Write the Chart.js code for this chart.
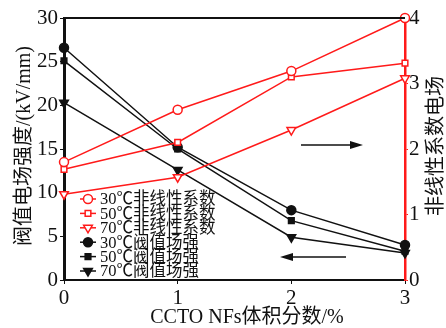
<!DOCTYPE html>
<html>
<head>
<meta charset="utf-8">
<script src="https://cdn.jsdelivr.net/npm/chart.js@4/dist/chart.umd.min.js"></script>
<style>
  html, body { margin: 0; padding: 0; background: #fff; }
  #wrap { width: 446px; height: 328px; }
</style>
</head>
<body>
<div id="wrap"><canvas id="c" width="446" height="328"></canvas></div>
<script>
// CCTO NFs volume fraction (%)
const categories = ['0', '1', '2', '3'];

// Nonlinear coefficient (right axis)
const nonlin30 = [1.80, 2.60, 3.19, 4.00];
const nonlin50 = [1.69, 2.10, 3.10, 3.31];
const nonlin70 = [1.31, 1.57, 2.29, 3.08];

// Threshold field strength, kV/mm (left axis)
const field30 = [26.6, 15.2, 8.0, 4.0];
const field50 = [25.1, 15.0, 6.8, 3.3];
const field70 = [20.3, 12.6, 4.9, 3.1];

const leftTicks = [0, 5, 10, 15, 20, 25, 30];
const rightTicks = [0, 1, 2, 3, 4];

const seriesLabels = [
  '30℃非线性系数', '50℃非线性系数', '70℃非线性系数',
  '30℃阀值场强', '50℃阀值场强', '70℃阀值场强'
];

const xTitle = 'CCTO NFs体积分数/%';
const yTitle = '阀值电场强度/(kV/mm)';
const y1Title = '非线性系数电场';

const RED = '#ff1a1a';
const BLACK = '#111';
const FONT = '"Liberation Serif", "Times New Roman", "Noto Sans CJK SC", serif';

function ds(label, data, color, style, filled, axis, radius, rotation) {
  return {
    label, data, yAxisID: axis,
    borderColor: color, borderWidth: 1.5,
    pointStyle: style, pointRadius: radius, pointRotation: rotation || 0,
    pointBackgroundColor: filled ? color : '#fff',
    pointBorderColor: color, pointBorderWidth: 1.5,
    pointHoverRadius: radius,
    tension: 0, fill: false, clip: false
  };
}

const datasets = [
  ds(seriesLabels[0], nonlin30, RED, 'circle', false, 'y1', 4.5),
  ds(seriesLabels[1], nonlin50, RED, 'rect', false, 'y1', 4),
  ds(seriesLabels[2], nonlin70, RED, 'triangle', false, 'y1', 5, 180),
  ds(seriesLabels[3], field30, BLACK, 'circle', true, 'y', 4.5),
  ds(seriesLabels[4], field50, BLACK, 'rect', true, 'y', 4),
  ds(seriesLabels[5], field70, BLACK, 'triangle', true, 'y', 5, 180)
];

function drawMarker(ctx, d, x, y) {
  ctx.save();
  ctx.lineWidth = d.pointBorderWidth;
  ctx.strokeStyle = d.pointBorderColor;
  ctx.fillStyle = d.pointBackgroundColor;
  const r = d.pointRadius;
  ctx.beginPath();
  if (d.pointStyle === 'circle') {
    ctx.arc(x, y, r, 0, Math.PI * 2);
  } else if (d.pointStyle === 'rect') {
    const s = r * Math.SQRT1_2;
    ctx.rect(x - s, y - s, 2 * s, 2 * s);
  } else {
    // downward triangle
    ctx.moveTo(x - r * 0.87, y - r * 0.5);
    ctx.lineTo(x + r * 0.87, y - r * 0.5);
    ctx.lineTo(x, y + r);
    ctx.closePath();
  }
  ctx.fill();
  ctx.stroke();
  ctx.restore();
}

function arrow(ctx, x1, y, x2) {
  const dir = Math.sign(x2 - x1);
  ctx.save();
  ctx.strokeStyle = BLACK;
  ctx.fillStyle = BLACK;
  ctx.lineWidth = 1.5;
  ctx.beginPath();
  ctx.moveTo(x1, y);
  ctx.lineTo(x2 - dir * 8, y);
  ctx.stroke();
  ctx.beginPath();
  ctx.moveTo(x2, y);
  ctx.lineTo(x2 - dir * 13, y - 4);
  ctx.lineTo(x2 - dir * 13, y + 4);
  ctx.closePath();
  ctx.fill();
  ctx.restore();
}

const decor = {
  id: 'decor',
  afterDraw(chart) {
    const ctx = chart.ctx;
    const a = chart.chartArea;
    // top frame line
    ctx.save();
    ctx.strokeStyle = BLACK;
    ctx.lineWidth = 2;
    ctx.beginPath();
    ctx.moveTo(a.left, a.top);
    ctx.lineTo(a.right, a.top);
    ctx.stroke();
    ctx.restore();

    // direction arrows
    arrow(ctx, 301, 145, 363);
    arrow(ctx, 346, 257, 280);

    // legend
    ctx.save();
    ctx.font = '16.5px ' + FONT;
    ctx.textBaseline = 'middle';
    ctx.textAlign = 'left';
    chart.data.datasets.forEach((d, i) => {
      const y = 199 + i * 14.4;
      ctx.strokeStyle = d.borderColor;
      ctx.lineWidth = 1.5;
      ctx.beginPath();
      ctx.moveTo(80, y);
      ctx.lineTo(96, y);
      ctx.stroke();
      drawMarker(ctx, d, 88, y);
      ctx.fillStyle = BLACK;
      ctx.fillText(d.label, 100, y + 1);
    });
    ctx.restore();

    // axis titles
    ctx.save();
    ctx.fillStyle = BLACK;
    ctx.font = '20px ' + FONT;
    ctx.textAlign = 'center';
    ctx.textBaseline = 'middle';
    ctx.fillText(xTitle, 247, 318);
    ctx.translate(25, 146);
    ctx.rotate(-Math.PI / 2);
    ctx.fillText(yTitle, 0, 0);
    ctx.restore();

    ctx.save();
    ctx.fillStyle = BLACK;
    ctx.font = '20px ' + FONT;
    ctx.textAlign = 'center';
    ctx.textBaseline = 'middle';
    ctx.translate(437, 146);
    ctx.rotate(-Math.PI / 2);
    ctx.fillText(y1Title, 0, 0);
    ctx.restore();
  }
};

new Chart(document.getElementById('c'), {
  type: 'line',
  data: { labels: categories, datasets },
  plugins: [decor],
  options: {
    responsive: false,
    animation: false,
    devicePixelRatio: 1,
    layout: { padding: { top: 18, left: 0, right: 0, bottom: 0 } },
    plugins: { legend: { display: false }, tooltip: { enabled: false } },
    scales: {
      x: {
        type: 'category',
        offset: false,
        grid: { display: true, drawOnChartArea: false, drawTicks: true, tickLength: 4, color: BLACK },
        border: { display: true, color: BLACK, width: 2 },
        ticks: { color: BLACK, font: { family: FONT, size: 21 }, padding: 2, maxRotation: 0 },
        afterFit(s) { s.height = 48; }
      },
      y: {
        position: 'left',
        min: 0, max: 30,
        afterBuildTicks(s) { s.ticks = leftTicks.map(v => ({ value: v })); },
        grid: { display: true, drawOnChartArea: false, drawTicks: true, tickLength: 4, color: BLACK },
        border: { display: true, color: BLACK, width: 3 },
        ticks: { color: BLACK, font: { family: FONT, size: 21 }, padding: 2 },
        afterFit(s) { s.width = 64; }
      },
      y1: {
        position: 'right',
        min: 0, max: 4,
        afterBuildTicks(s) { s.ticks = rightTicks.map(v => ({ value: v })); },
        grid: { display: true, drawOnChartArea: false, drawTicks: true, tickLength: 3, color: RED },
        border: { display: true, color: RED, width: 2.5 },
        ticks: { color: BLACK, font: { family: FONT, size: 21 }, padding: 1 },
        afterFit(s) { s.width = 41; }
      }
    }
  }
});
</script>
</body>
</html>
